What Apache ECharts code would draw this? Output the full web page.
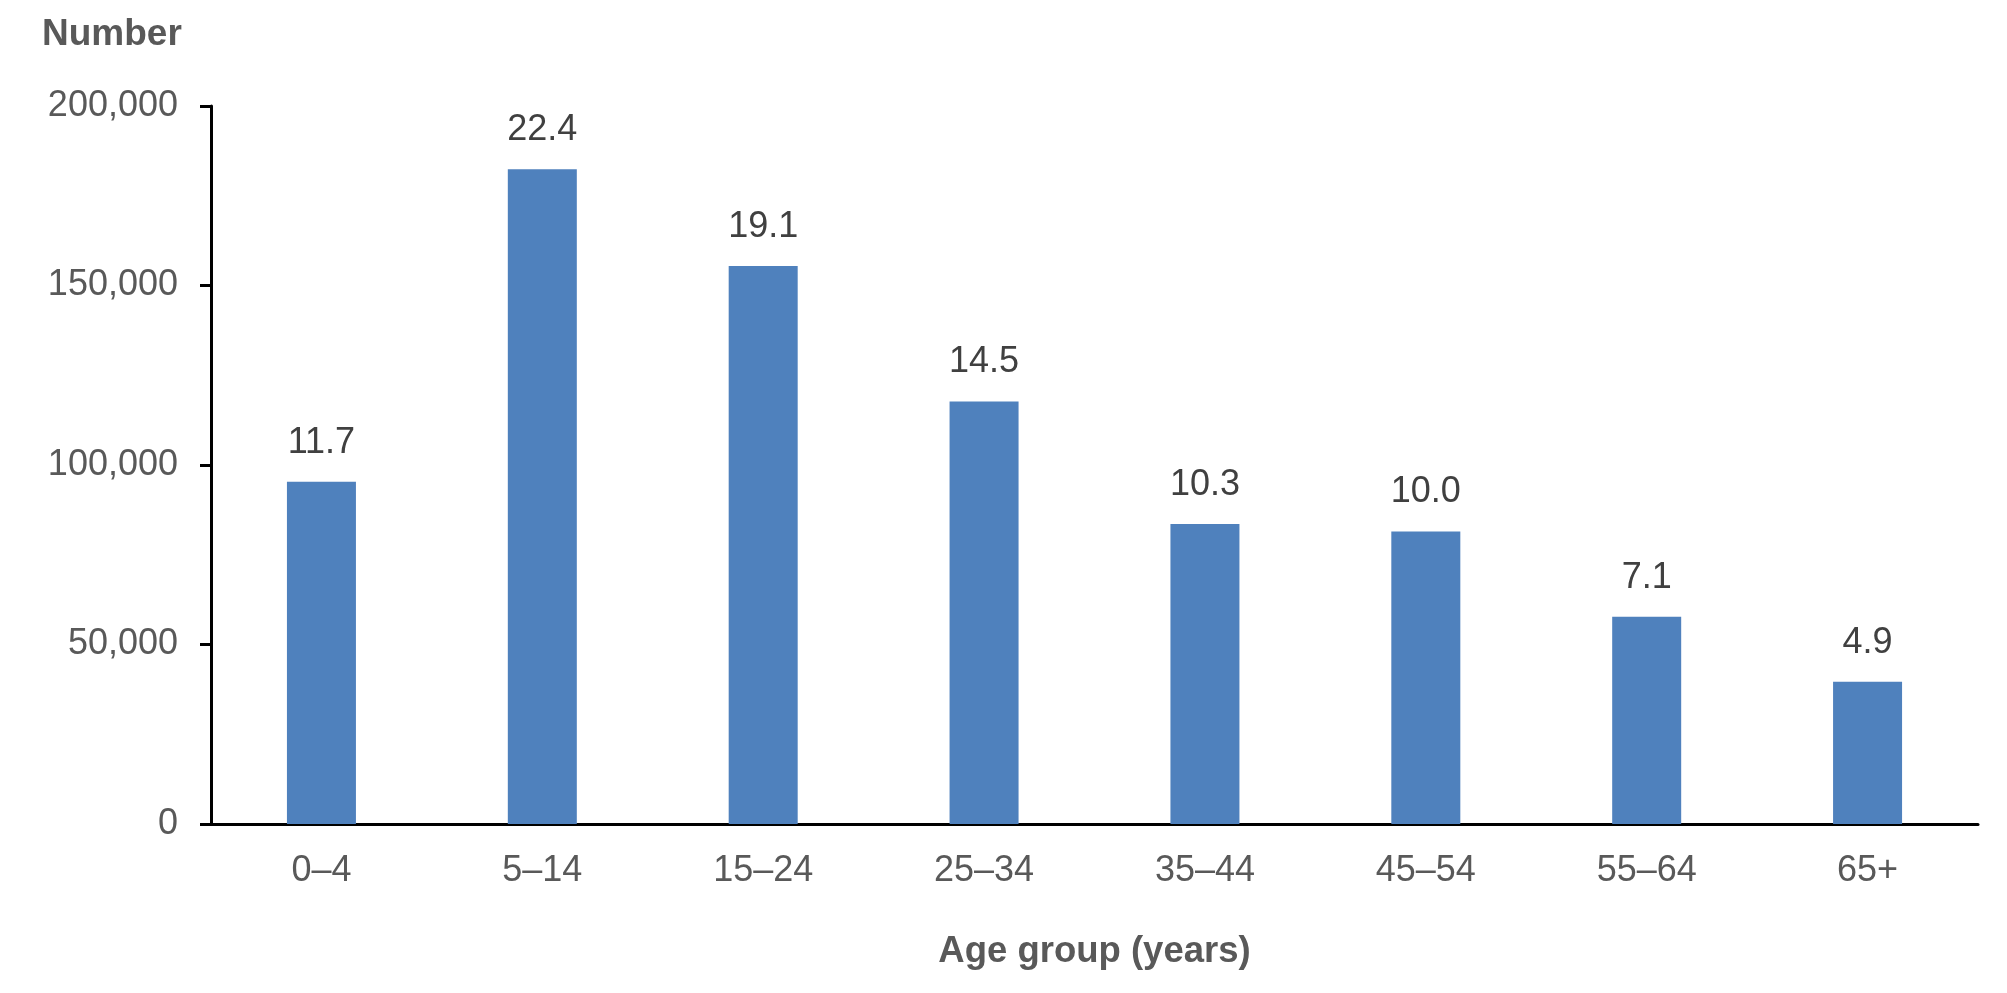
<!DOCTYPE html>
<html>
<head>
<meta charset="utf-8">
<script src="https://cdn.jsdelivr.net/npm/echarts@6/dist/echarts.min.js"></script>
<style>
    html, body { margin: 0; padding: 0; background: #fff; }
    #chart { width: 2007px; height: 993px; }
</style>
</head>
<body>
<div id="chart"></div>
<script>
// 年龄组
const ageGroups = ['0–4', '5–14', '15–24', '25–34', '35–44', '45–54', '55–64', '65+']
// 人数
const counts = [95300, 182400, 155400, 117700, 83600, 81500, 57700, 39600]
// 柱顶标签 (%)
const rates = ['11.7', '22.4', '19.1', '14.5', '10.3', '10.0', '7.1', '4.9']
// y轴刻度
const yMin = 0
const yMax = 200000
const yStep = 50000

function ageChart() {
    const box = document.querySelector('#chart')
    const myChart = echarts.init(box)
    const font = 'Liberation Sans, Arial, sans-serif'
    const option = {
        animation: false,
        title: {
            text: 'Number',
            left: 37,
            top: 11,
            textStyle: {
                fontFamily: font,
                fontSize: 37,
                fontWeight: 'bold',
                color: '#595959'
            }
        },
        grid: {
            left: 211,
            right: 29,
            top: 106,
            bottom: 169
        },
        xAxis: {
            type: 'category',
            data: ageGroups,
            name: 'Age group (years)',
            nameLocation: 'middle',
            nameGap: 109,
            nameTextStyle: {
                fontFamily: font,
                fontSize: 36.5,
                fontWeight: 'bold',
                color: '#595959'
            },
            axisLine: {
                lineStyle: { color: '#000', width: 3 }
            },
            axisTick: { show: false },
            axisLabel: {
                margin: 29,
                fontFamily: font,
                fontSize: 36,
                color: '#595959'
            }
        },
        yAxis: {
            type: 'value',
            min: yMin,
            max: yMax,
            interval: yStep,
            axisLine: {
                show: true,
                lineStyle: { color: '#000', width: 3 }
            },
            axisTick: {
                show: true,
                length: 11,
                lineStyle: { color: '#000', width: 3 }
            },
            splitLine: { show: false },
            axisLabel: {
                margin: 33,
                fontFamily: font,
                fontSize: 36,
                color: '#595959',
                formatter: function (v) {
                    return v.toLocaleString('en-US')
                }
            }
        },
        series: [
            {
                type: 'bar',
                data: counts,
                barWidth: 69,
                itemStyle: { color: '#4F81BD' },
                label: {
                    show: true,
                    position: 'top',
                    distance: 21,
                    fontFamily: font,
                    fontSize: 36,
                    color: '#404040',
                    formatter: function (p) {
                        return rates[p.dataIndex]
                    }
                }
            }
        ]
    }
    myChart.setOption(option)
}
ageChart()
</script>
</body>
</html>
